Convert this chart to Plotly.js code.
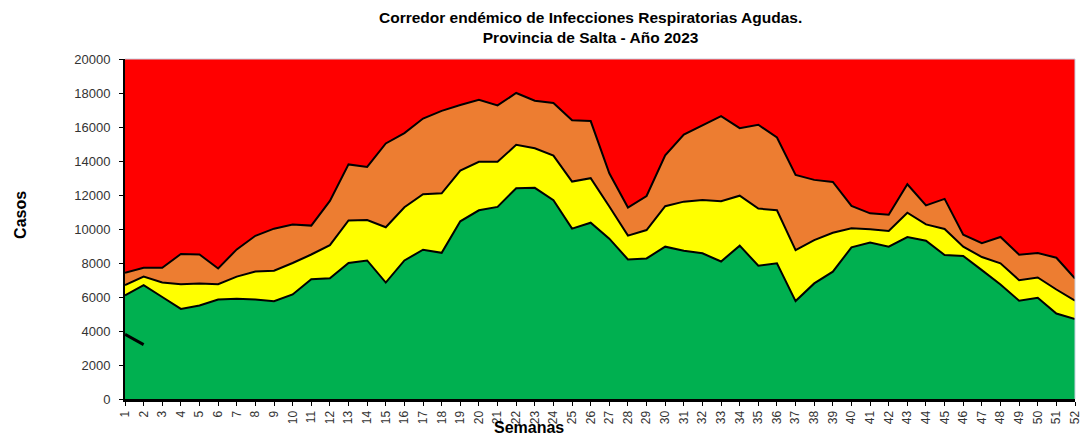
<!DOCTYPE html>
<html>
<head>
<meta charset="utf-8">
<script src="https://cdn.plot.ly/plotly-3.0.1.min.js"></script>
<style>
  html, body { margin: 0; padding: 0; background: #fff; }
  #grafico { width: 1081px; height: 436px; }
</style>
</head>
<body>
<div id="grafico"></div>
<script>
// semanas epidemiologicas
let semanas = [];
for (let i = 1; i <= 52; i++) semanas.push(i);

// zona de exito (verde)
let exito = [6100, 6700, 6000, 5300, 5500, 5850, 5900, 5850, 5750, 6150,
             7050, 7100, 8000, 8150, 6850, 8150, 8780, 8600, 10450, 11100,
             11300, 12400, 12420, 11700, 10020, 10370, 9430, 8210, 8270, 8960,
             8720, 8570, 8090, 9020, 7840, 7980, 5760, 6800, 7490, 8920,
             9210, 8960, 9530, 9310, 8470, 8410, 7580, 6740, 5780, 5950,
             5030, 4700];

// zona de seguridad (amarillo) - limite superior
let seguridad = [6700, 7200, 6850, 6750, 6800, 6750, 7200, 7500, 7550, 8000,
                 8500, 9050, 10500, 10530, 10100, 11280, 12050, 12100, 13440, 13950,
                 13950, 14950, 14750, 14320, 12790, 12990, 11320, 9610, 9940, 11340,
                 11610, 11710, 11630, 11960, 11200, 11100, 8760, 9350, 9780, 10040,
                 9980, 9880, 10960, 10270, 10000, 8960, 8350, 7980, 6990, 7150,
                 6440, 5780];

// zona de alerta (naranja) - limite superior
let alerta = [7430, 7720, 7720, 8530, 8500, 7680, 8800, 9600, 10020, 10270,
              10200, 11650, 13800, 13650, 15030, 15640, 16500, 16950, 17290, 17600,
              17270, 18000, 17550, 17410, 16400, 16350, 13280, 11260, 11940, 14340,
              15560, 16090, 16640, 15930, 16130, 15380, 13180, 12890, 12770, 11360,
              10920, 10840, 12630, 11390, 11770, 9670, 9170, 9530, 8490, 8590,
              8310, 7090];

// casos 2023
let semanas_2023 = [1, 2];
let casos_2023 = [3800, 3200];

let ticks_y = [0, 2000, 4000, 6000, 8000, 10000, 12000, 14000, 16000, 18000, 20000];

let borde = {color: '#000000', width: 2};

let trazas = [
    {x: semanas, y: exito, type: 'scatter', mode: 'lines', fill: 'tozeroy',
     fillcolor: '#00b050', line: borde, name: 'Éxito'},
    {x: semanas, y: seguridad, type: 'scatter', mode: 'lines', fill: 'tonexty',
     fillcolor: '#ffff00', line: borde, name: 'Seguridad'},
    {x: semanas, y: alerta, type: 'scatter', mode: 'lines', fill: 'tonexty',
     fillcolor: '#ed7d31', line: borde, name: 'Alerta'},
    {x: semanas_2023, y: casos_2023, type: 'scatter', mode: 'lines',
     line: {color: '#000000', width: 3}, name: '2023'}
];

let layout = {
    width: 1081, height: 436,
    margin: {l: 125, r: 6, t: 59, b: 37},
    paper_bgcolor: '#ffffff',
    plot_bgcolor: '#ff0000',
    showlegend: false,
    font: {family: 'Liberation Sans, Arial, sans-serif', color: '#333333'},
    xaxis: {
        range: [1, 52],
        tickmode: 'array', tickvals: semanas, ticktext: semanas.map(String),
        tickangle: -90, tickfont: {size: 12, color: '#333333'},
        ticklabeloverflow: 'allow',
        ticks: 'outside', ticklen: 4, tickcolor: '#000000',
        showgrid: false, zeroline: false,
        showline: true, linecolor: '#000000', linewidth: 3
    },
    yaxis: {
        range: [0, 20000],
        tickmode: 'array', tickvals: ticks_y, ticktext: ticks_y.map(String),
        tickfont: {size: 13, color: '#333333'},
        ticks: 'outside', ticklen: 4, tickcolor: '#000000',
        ticklabelstandoff: 6,
        showgrid: false, zeroline: false,
        showline: true, linecolor: '#000000', linewidth: 2
    },
    shapes: [
        {type: 'line', xref: 'paper', yref: 'paper', x0: 0, x1: 1, y0: 1, y1: 1,
         line: {color: '#c8d0e0', width: 1}},
        {type: 'line', xref: 'paper', yref: 'paper', x0: 1, x1: 1, y0: 0, y1: 1,
         line: {color: '#c8d0e0', width: 1}}
    ],
    annotations: [
        {text: '<b>Corredor endémico de Infecciones Respiratorias Agudas.<br>Provincia de Salta - Año 2023</b>',
         xref: 'paper', yref: 'paper', x: 0.49, y: 1.094,
         xanchor: 'center', yanchor: 'middle', showarrow: false,
         font: {size: 15.5, color: '#000000'}},
        {text: '<b>Casos</b>', xref: 'paper', yref: 'paper', x: -0.11, y: 0.54,
         xanchor: 'center', yanchor: 'middle', textangle: -90, showarrow: false,
         font: {size: 16, color: '#000000'}},
        {text: '<b>Semanas</b>', xref: 'paper', yref: 'paper', x: 0.425, y: -0.052,
         xanchor: 'center', yanchor: 'top', showarrow: false,
         font: {size: 16, color: '#000000'}}
    ]
};

Plotly.newPlot('grafico', trazas, layout, {displayModeBar: false, staticPlot: true});
</script>
</body>
</html>
